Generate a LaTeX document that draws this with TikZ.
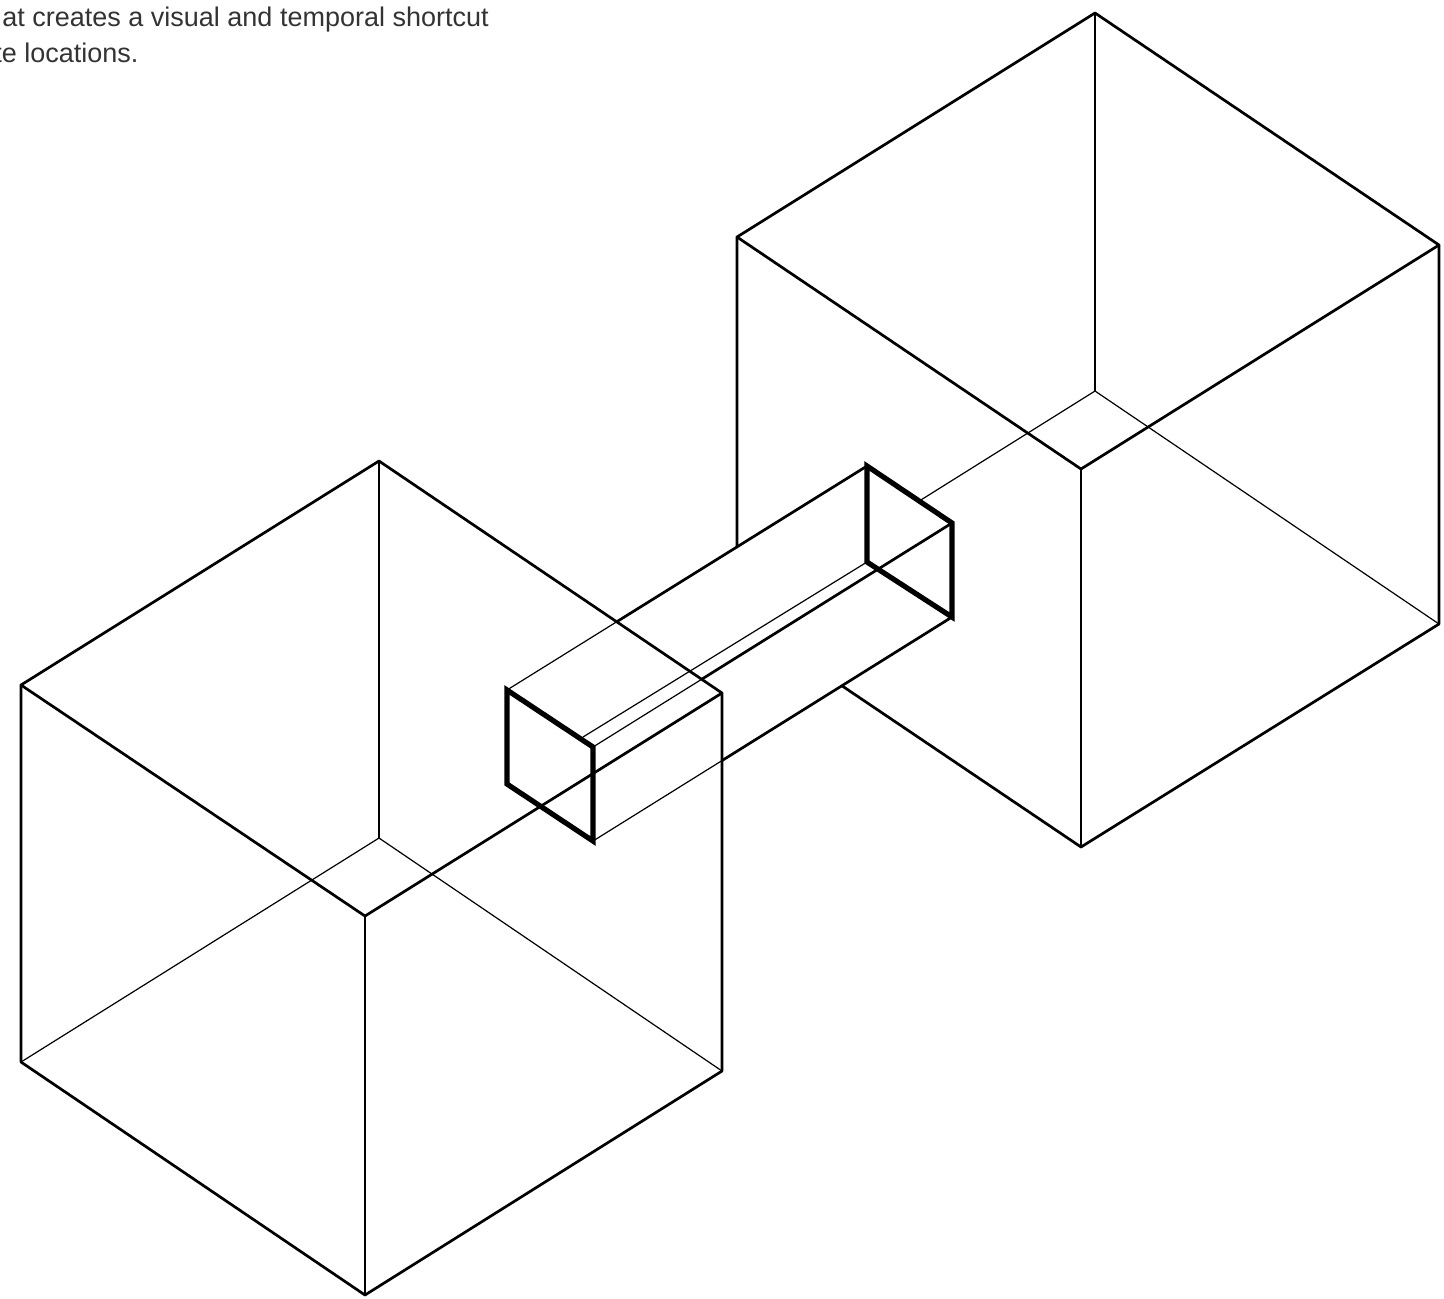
\documentclass[tikz,border=0pt]{standalone}
\usepackage{fontspec}
\setmainfont{Liberation Sans}
\usetikzlibrary{positioning}
\definecolor{inkGray}{HTML}{333333}

\begin{document}
\begin{tikzpicture}[
  x=0.5pt, y=-0.5pt,
  edgeThin/.style={draw=black, line width=0.6pt, line cap=round},
  edgeMid/.style={draw=black, line width=1.35pt, line cap=round, line join=round},
  frameThick/.style={draw=black, line width=2.6pt, line join=miter},
  caption/.style={anchor=base west, inner sep=0pt, text=inkGray, font=\fontsize{13.5}{14}\selectfont}
]
  \useasboundingbox (0,0) rectangle (1444,1298);

  % left cube
  \coordinate (lT)  at (379,461);
  \coordinate (lL)  at (21,685);
  \coordinate (lR)  at (722,693);
  \coordinate (lF)  at (365,916);
  \coordinate (lB)  at (379,838);
  \coordinate (lBL) at (21,1062);
  \coordinate (lBR) at (722,1071);
  \coordinate (lBF) at (365,1295);

  % right cube
  \coordinate (rT)  at (1095,13);
  \coordinate (rL)  at (737,237);
  \coordinate (rR)  at (1439,245);
  \coordinate (rF)  at (1081,469);
  \coordinate (rB)  at (1095,391);
  \coordinate (rBR) at (1439,624);
  \coordinate (rBF) at (1081,847);

  % tunnel frames
  \coordinate (fA) at (507,690);
  \coordinate (fB) at (593,747);
  \coordinate (fC) at (593,841);
  \coordinate (fD) at (507,784);
  \coordinate (bA) at (867,466);
  \coordinate (bB) at (952,523);
  \coordinate (bC) at (952,617);
  \coordinate (bD) at (867,562);

  % where the tunnel meets the cubes
  \coordinate (topCut)   at (intersection cs:first line={(fA)--(bA)},second line={(lT)--(lR)});
  \coordinate (lowCut)   at (intersection cs:first line={(fC)--(bC)},second line={(lR)--(lBR)});
  \coordinate (innerCut) at (intersection cs:first line={(fB)--(bB)},second line={(lT)--(lR)});
  \coordinate (rLeftEnd) at (intersection cs:first line={(rL)--(737,615)},second line={(fA)--(bA)});
  \coordinate (rLowEnd)  at (intersection cs:first line={(rBF)--(737,615)},second line={(fC)--(bC)});
  \coordinate (rBackEnd) at (intersection cs:first line={(rB)--(737,615)},second line={(bA)--(bB)});

  \draw[edgeMid] (lL) -- (lT) -- (lR) -- (lBR) -- (lBF) -- (lBL) -- cycle;
  \draw[edgeMid] (lL) -- (lF) -- (lR);
  \draw[edgeMid] (lF) -- (lBF);
  \foreach \a/\b in {lT/lB,lB/lBL,lB/lBR}
    \draw[edgeThin] (\a) -- (\b);

  \draw[edgeMid] (rLeftEnd) -- (rL) -- (rT) -- (rR) -- (rBR) -- (rBF) -- (rLowEnd);
  \draw[edgeMid] (rL) -- (rF) -- (rR);
  \draw[edgeMid] (rF) -- (rBF);
  \foreach \a/\b in {rT/rB,rB/rBR,rB/rBackEnd}
    \draw[edgeThin] (\a) -- (\b);

  \foreach \a/\b in {fA/topCut,fC/lowCut,fB/innerCut}
    \draw[edgeThin] (\a) -- (\b);
  \draw[edgeThin] (583,737) -- (bD);
  \foreach \a/\b in {topCut/bA,lowCut/bC,innerCut/bB}
    \draw[edgeMid] (\a) -- (\b);

  \draw[frameThick] (fA) -- (fB) -- (fC) -- (fD) -- cycle;
  \draw[frameThick] (bA) -- (bB) -- (bC) -- (bD) -- cycle;

  \node[caption] (capOne) at (2,26) {at creates a visual and temporal shortcut};
  \node[caption] (capTwo) at (-6,62) {te locations.};
\end{tikzpicture}
\end{document}
